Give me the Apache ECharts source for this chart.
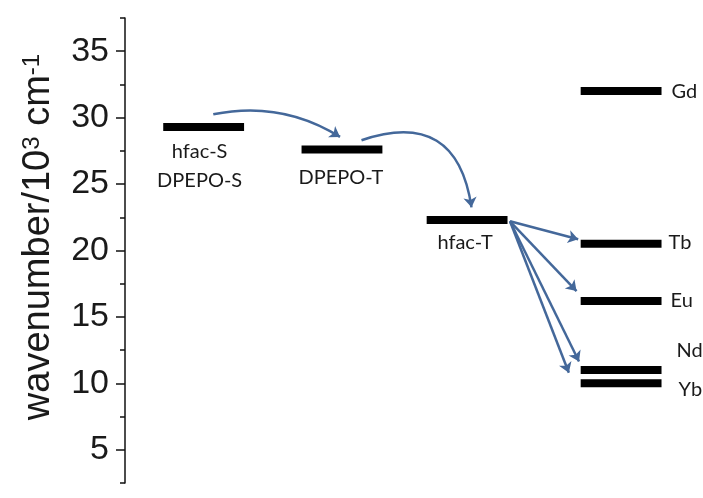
<!DOCTYPE html>
<html>
<head>
<meta charset="utf-8">
<script src="https://cdn.jsdelivr.net/npm/echarts@6/dist/echarts.min.js"></script>
<style>
  html, body { margin: 0; padding: 0; background: #ffffff; }
  #chart { width: 703px; height: 498px; }
</style>
</head>
<body>
<div id="chart"></div>
<script>
// Energy levels, in 10^3 cm^-1
const levelNames = ['hfac-S', 'DPEPO-T', 'hfac-T', 'Gd', 'Tb', 'Eu', 'Nd', 'Yb'];
const levelEnergies = [29.3, 27.6, 22.3, 32.0, 20.5, 16.2, 11.0, 10.0];
const levelColumns = [0, 1, 2, 3, 3, 3, 3, 3];
const levelSubLabels = ['DPEPO-S', '', '', '', '', '', '', ''];

// Energy-transfer paths (x in scheme units, y in 10^3 cm^-1)
const transferFrom = [[16.05, 30.25], [43.0, 28.3], [70.0, 22.2], [70.0, 22.2], [70.0, 22.2], [70.0, 22.2]];
const transferTo = [[39.1, 28.55], [63.0, 23.25], [82.4, 20.85], [82.1, 16.95], [82.55, 11.65], [80.7, 10.8]];
const transferCurveness = [0.2, 0.6, 0, 0, 0, 0];

// Y-axis ticks
const yMajorTicks = [5, 10, 15, 20, 25, 30, 35];
const yMinorTicks = [2.5, 7.5, 12.5, 17.5, 22.5, 27.5, 32.5, 37.5];

// Scheme layout (x-axis units)
const columnCenters = [14.3, 39.45, 62.2, 90.2];
const barHalfWidth = 7.35;

// Caption placement for each level, in pixels relative to the bar centre / end
const captionLayout = {
  'hfac-S':  { side: 'below', dx: -4, dy: 25, dy2: 54 },
  'DPEPO-T': { side: 'below', dx: -1, dy: 28 },
  'hfac-T':  { side: 'below', dx: -2, dy: 23 },
  'Gd':      { side: 'right', dx: 10, dy: 0 },
  'Tb':      { side: 'right', dx: 7,  dy: -1 },
  'Eu':      { side: 'right', dx: 9,  dy: 0 },
  'Nd':      { side: 'right', dx: 15, dy: -20 },
  'Yb':      { side: 'right', dx: 17, dy: 6 }
};

const LABEL_FONT = '20px Lato';
const AXIS_FONT = '"Liberation Sans", Arial, sans-serif';
const ARROW_COLOR = '#44689a';

const levelData = levelNames.map((name, i) => [columnCenters[levelColumns[i]], levelEnergies[i], i]);

function renderLevel(params, api) {
  const idx = api.value(2);
  const name = levelNames[idx];
  const c = api.coord([api.value(0), api.value(1)]);
  const hw = api.size([barHalfWidth, 0])[0];
  const lay = captionLayout[name];
  const children = [{
    type: 'rect',
    shape: { x: c[0] - hw, y: c[1] - 4, width: hw * 2, height: 8 },
    style: { fill: '#000000' }
  }];
  const textStyle = (text, align) => ({ text, font: LABEL_FONT, fill: '#1a1a1a', align, verticalAlign: 'middle' });
  if (lay.side === 'below') {
    children.push({ type: 'text', x: c[0] + lay.dx, y: c[1] + lay.dy, style: textStyle(name, 'center') });
    if (levelSubLabels[idx]) {
      children.push({ type: 'text', x: c[0] + lay.dx, y: c[1] + lay.dy2, style: textStyle(levelSubLabels[idx], 'center') });
    }
  } else {
    children.push({ type: 'text', x: c[0] + hw + lay.dx, y: c[1] + lay.dy, style: textStyle(name, 'left') });
  }
  return { type: 'group', children };
}

const chart = echarts.init(document.getElementById('chart'), null, { renderer: 'canvas' });

chart.setOption({
  animation: false,
  backgroundColor: '#ffffff',
  grid: { left: 125, right: 28, top: 18, bottom: 15, containLabel: false },
  xAxis: { type: 'value', min: 0, max: 100, show: false },
  yAxis: [
    {
      type: 'value', min: 2.5, max: 37.5, position: 'left',
      axisLine: { show: true, lineStyle: { color: '#111', width: 1.5 } },
      axisTick: { show: true, length: 9, customValues: yMajorTicks, lineStyle: { color: '#111', width: 1.5 } },
      axisLabel: {
        show: true, customValues: yMajorTicks, margin: 16,
        fontSize: 34, fontFamily: AXIS_FONT, color: '#1a1a1a'
      },
      splitLine: { show: false }
    },
    {
      type: 'value', min: 2.5, max: 37.5, position: 'left', offset: 0,
      axisLine: { show: false },
      axisTick: { show: true, length: 5, customValues: yMinorTicks, lineStyle: { color: '#111', width: 1.5 } },
      axisLabel: { show: false },
      splitLine: { show: false }
    }
  ],
  graphic: [{
    type: 'text',
    x: 39, y: 237,
    rotation: Math.PI / 2,
    style: {
      text: 'wavenumber/10{sup|3} cm{sup|-1}',
      font: '38px "Liberation Sans", Arial, sans-serif',
      fill: '#1a1a1a',
      align: 'center',
      verticalAlign: 'middle',
      rich: {
        sup: { fontSize: 24, fontFamily: AXIS_FONT, verticalAlign: 'top', fill: '#1a1a1a' }
      }
    }
  }],
  series: [
    {
      type: 'lines',
      coordinateSystem: 'cartesian2d',
      xAxisIndex: 0, yAxisIndex: 0,
      symbol: ['none', 'arrow'],
      symbolSize: [8, 10],
      lineStyle: { color: ARROW_COLOR, width: 2.5, opacity: 1 },
      data: transferFrom.map((from, i) => ({
        coords: [from, transferTo[i]],
        lineStyle: { curveness: transferCurveness[i] }
      })),
      z: 3
    },
    {
      type: 'custom',
      xAxisIndex: 0, yAxisIndex: 0,
      renderItem: renderLevel,
      data: levelData,
      z: 4
    }
  ]
});
</script>
</body>
</html>
